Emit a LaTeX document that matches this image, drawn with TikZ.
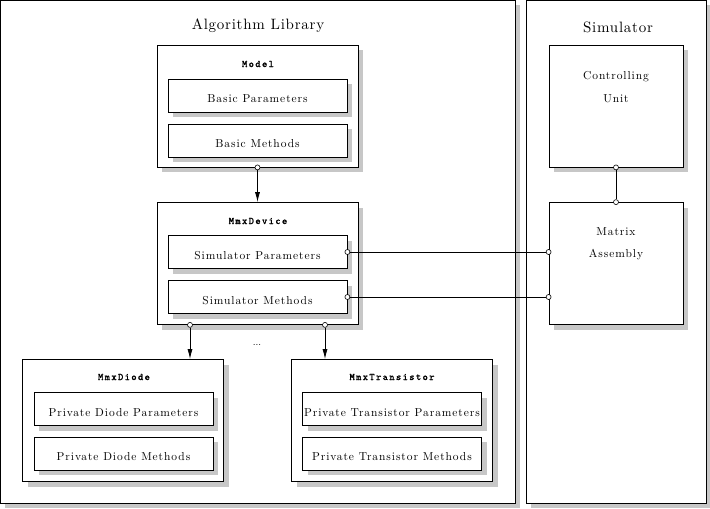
\documentclass[tikz,border=0pt]{standalone}
\usepackage{fontspec}
\setmainfont{lmroman10-regular.otf}
\setmonofont{lmmono10-regular.otf}
\usetikzlibrary{shadows,arrows.meta}
\tikzset{
  sh/.style={general shadow={fill=black!22, shadow xshift=5pt, shadow yshift=-5pt}},
  box/.style={draw, fill=white, line width=0.8pt, sh, inner sep=0pt},
  outerbox/.style={box, minimum height=122pt, minimum width=201pt},
  innerbox/.style={box, minimum height=33pt, minimum width=179pt, text height=14pt, text depth=0pt,
    font=\fontsize{11.5}{13}\selectfont\addfontfeatures{LetterSpace=8}},
  simbox/.style={box, minimum height=122pt, minimum width=134pt},
  lbl/.style={inner sep=0pt, font=\fontsize{10}{12}\selectfont\ttfamily\addfontfeatures{LetterSpace=14,FakeBold=1.5}},
  ttl/.style={inner sep=0pt, font=\fontsize{15}{18}\selectfont\addfontfeatures{LetterSpace=5}},
  txt/.style={inner sep=0pt, align=center, font=\fontsize{11.5}{22.5}\selectfont\addfontfeatures{LetterSpace=8}},
  dot/.style={circle, draw, fill=white, line width=0.6pt, inner sep=0pt, minimum size=5pt},
  conn/.style={line width=0.8pt},
  arr/.style={conn, -{Latex[length=10pt,width=5pt]}},
}
\begin{document}
\begin{tikzpicture}[x=1pt,y=-1pt]
\useasboundingbox (0,0) rectangle (710,509);
% big frames
\node[box, minimum width=515pt, minimum height=503pt] (lib) at (257.9,251.9) {};
\node[box, minimum width=180pt, minimum height=503pt] (sim) at (616,251.9) {};
\node[ttl] (libT) at (258,26) {Algorithm Library};
\node[ttl] (simT) at (618,27) {Simulator};
% Model
\node[outerbox] (model) at (257.5,106) {};
\node[lbl] (modelT) at (258,64) {Model};
\node[innerbox] (bp) at (257.5,95.5) {Basic Parameters};
\node[innerbox] (bm) at (257.5,140.5) {Basic Methods};
% MmxDevice
\node[outerbox] (dev) at (257.5,263.5) {};
\node[lbl] (devT) at (258,221) {MmxDevice};
\node[innerbox] (sp) at (257.5,252) {Simulator Parameters};
\node[innerbox] (sm) at (257.5,297) {Simulator Methods};
% MmxDiode
\node[outerbox] (dio) at (123,420.5) {};
\node[lbl] (dioT) at (124,377) {MmxDiode};
\node[innerbox] (dp) at (123.5,409) {Private Diode Parameters};
\node[innerbox] (dm) at (123.5,453.5) {Private Diode Methods};
% MmxTransistor
\node[outerbox] (tra) at (392,420.5) {};
\node[lbl] (traT) at (392,377) {MmxTransistor};
\node[innerbox] (tp) at (392,409) {Private Transistor Parameters};
\node[innerbox] (tm) at (392,453.5) {Private Transistor Methods};
\node[inner sep=0pt, font=\fontsize{10}{12}\selectfont] (dots) at (257,345) {...};
% Simulator
\node[simbox] (cu) at (616,106) {};
\node[txt] (cuT) at (616,87) {Controlling\\Unit};
\node[simbox] (ma) at (616,263.5) {};
\node[txt] (maT) at (616,243.5) {Matrix\\Assembly};
% connectors
\node[dot] (d1) at (model.south) {};
\draw[arr] (d1) -- (dev.north);
\node[dot] (d2) at ([xshift=-67.5pt]dev.south) {};
\draw[arr] (d2) -- (d2 |- dio.north);
\node[dot] (d3) at ([xshift=67.5pt]dev.south) {};
\draw[arr] (d3) -- (d3 |- tra.north);
\node[dot] (d4) at (cu.south) {};
\node[dot] (d5) at (ma.north) {};
\draw[conn] (d4) -- (d5);
\node[dot] (d6) at (sp.east) {};
\node[dot] (d7) at (ma.west |- sp.east) {};
\draw[conn] (d6) -- (d7);
\node[dot] (d8) at (sm.east) {};
\node[dot] (d9) at (ma.west |- sm.east) {};
\draw[conn] (d8) -- (d9);
\end{tikzpicture}
\end{document}
